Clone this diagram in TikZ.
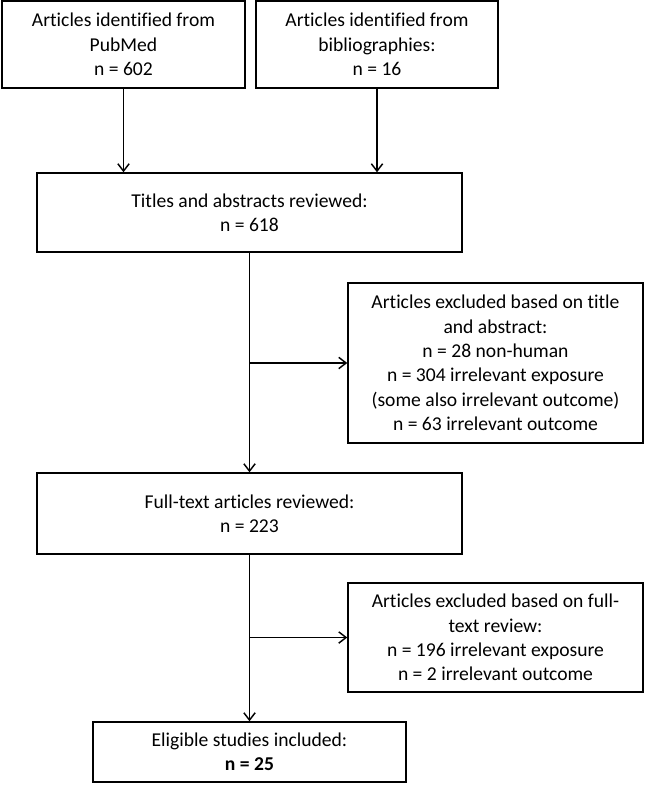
\documentclass[tikz,border=0pt]{standalone}
\usepackage{fontspec}
\setmainfont[Ligatures=NoCommon]{Carlito}
\usetikzlibrary{arrows.meta}
\begin{document}
\begin{tikzpicture}[x=0.75pt,y=-0.75pt,
  box/.style={draw, line width=1.1pt, align=center, inner sep=0pt,
    font=\fontsize{14.7}{18.3}\selectfont},
  arr/.style={line width=1.1pt, -{Straight Barb[length=5.5pt,width=8.5pt]}}]
\useasboundingbox (0,0) rectangle (645,785);
\node[box, minimum width=182.25pt, minimum height=65.25pt] (b1) at (123.5,44.5)
  {Articles identified from\\PubMed\\n = 602};
\node[box, minimum width=181.5pt, minimum height=65.25pt] (b2) at (377,44.5)
  {Articles identified from\\bibliographies:\\n = 16};
\node[box, minimum width=318.75pt, minimum height=59.25pt] (b3) at (249.5,212.5)
  {Titles and abstracts reviewed:\\n = 618};
\node[box, minimum width=221.25pt, minimum height=120pt] (b5) at (495.5,363)
  {Articles excluded based on title\\and abstract:\\n = 28 non-human\\n = 304 irrelevant exposure\\(some also irrelevant outcome)\\n = 63 irrelevant outcome};
\node[box, minimum width=318.75pt, minimum height=60.75pt] (b4) at (249.5,513.5)
  {Full-text articles reviewed:\\n = 223};
\node[box, minimum width=221.25pt, minimum height=81.75pt] (b6) at (495.5,637.5)
  {Articles excluded based on full-\\text review:\\n = 196 irrelevant exposure\\n = 2 irrelevant outcome};
\node[box, minimum width=234.75pt, minimum height=45pt] (b7) at (249.5,752)
  {Eligible studies included:\\\textbf{n = 25}};
\draw[arr] (b1.south) -- (b1.south |- b3.north);
\draw[arr] (b2.south) -- (b2.south |- b3.north);
\draw[arr] (b3.south) -- (b4.north);
\draw[arr] (b3.south |- b5.west) -- (b5.west);
\draw[arr] (b4.south) -- (b7.north);
\draw[arr] (b4.south |- b6.west) -- (b6.west);
\end{tikzpicture}
\end{document}
